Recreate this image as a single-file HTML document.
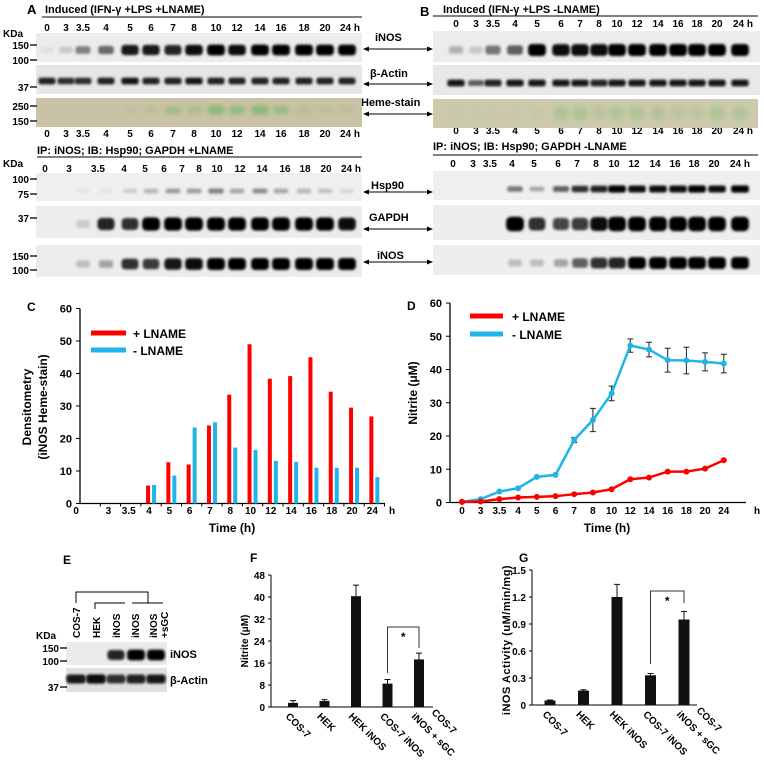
<!DOCTYPE html>
<html><head><meta charset="utf-8"><style>
html,body{margin:0;padding:0;background:#fff;}
svg{display:block;font-family:"Liberation Sans",sans-serif;font-weight:bold;}
</style></head><body>
<svg id="fig" width="764" height="761" viewBox="0 0 764 761" xmlns="http://www.w3.org/2000/svg">
<defs>
<filter id="blur" x="-30%" y="-60%" width="160%" height="220%"><feGaussianBlur stdDeviation="1.3"/></filter>
<filter id="blur2" x="-30%" y="-60%" width="160%" height="220%"><feGaussianBlur stdDeviation="2.2"/></filter>
</defs>
<text x="27" y="14" font-size="13">A</text>
<text x="45" y="13" font-size="11">Induced (IFN-γ +LPS +LNAME)</text>
<line x1="42" y1="17" x2="362" y2="17" stroke="#000"/>
<text x="3" y="37" font-size="10">KDa</text>
<text x="420" y="16" font-size="13">B</text>
<text x="443" y="13" font-size="11">Induced (IFN-γ +LPS -LNAME)</text>
<line x1="433" y1="16" x2="758" y2="16" stroke="#000"/>
<text x="37" y="154" font-size="11">IP: iNOS;  IB: Hsp90; GAPDH    +LNAME</text>
<line x1="37" y1="157" x2="362" y2="157" stroke="#000"/>
<text x="433" y="150" font-size="11">IP: iNOS;  IB: Hsp90; GAPDH       -LNAME</text>
<line x1="433" y1="155" x2="758" y2="155" stroke="#000"/>
<text x="3" y="167" font-size="10">KDa</text>
<text x="375" y="41" font-size="11">iNOS</text>
<text x="370" y="77" font-size="11">β-Actin</text>
<text x="361" y="106" font-size="11">Heme-stain</text>
<text x="371" y="189" font-size="11">Hsp90</text>
<text x="369" y="221" font-size="11">GAPDH</text>
<text x="377" y="259" font-size="11">iNOS</text>
<g id="arrows"></g>
<text x="27" y="311" font-size="12">C</text>
<text transform="translate(31,407) rotate(-90)" text-anchor="middle" font-size="12">Densitometry</text>
<text transform="translate(47,407) rotate(-90)" text-anchor="middle" font-size="12">(iNOS Heme-stain)</text>
<text x="232" y="532" text-anchor="middle" font-size="12">Time (h)</text>
<line x1="91" y1="333" x2="126" y2="333" stroke="#ff0000" stroke-width="5"/>
<text x="133" y="338" font-size="12">+ LNAME</text>
<line x1="91" y1="350" x2="126" y2="350" stroke="#1fb4ea" stroke-width="5"/>
<text x="133" y="355" font-size="12">- LNAME</text>
<text x="407" y="310" font-size="12">D</text>
<text transform="translate(417,393) rotate(-90)" text-anchor="middle" font-size="12">Nitrite (μM)</text>
<text x="607" y="532" text-anchor="middle" font-size="12">Time (h)</text>
<line x1="470" y1="316" x2="503" y2="316" stroke="#ff0000" stroke-width="5"/>
<text x="512" y="321" font-size="12">+ LNAME</text>
<line x1="470" y1="334" x2="503" y2="334" stroke="#1fb4ea" stroke-width="5"/>
<text x="512" y="339" font-size="12">- LNAME</text>
<text x="63" y="564" font-size="12">E</text>
<g fill="none" stroke="#000" stroke-width="1">
<polyline points="76,603 76,592 148,592 148,603"/>
<polyline points="95,609 95,603 125,603"/>
<polyline points="132,603 163,603"/>
</g>
<g font-size="10">
<text transform="translate(80,638) rotate(-90)">COS-7</text>
<text transform="translate(100,638) rotate(-90)">HEK</text>
<text transform="translate(120,638) rotate(-90)">iNOS</text>
<text transform="translate(139,638) rotate(-90)">iNOS</text>
<text transform="translate(157,638) rotate(-90)">iNOS</text>
<text transform="translate(168,638) rotate(-90)">+sGC</text>
</g>
<text x="36" y="639" font-size="10">KDa</text>
<text x="170" y="658" font-size="11">iNOS</text>
<text x="170" y="684" font-size="11">β-Actin</text>
<text x="250" y="562" font-size="12">F</text>
<text transform="translate(248,641) rotate(-90)" text-anchor="middle" font-size="10">Nitrite (μM)</text>
<text x="519" y="562" font-size="12">G</text>
<text transform="translate(510,640) rotate(-90)" text-anchor="middle" font-size="11" letter-spacing="0.5">iNOS Activity (uM/min/mg)</text>
</svg>
<script>
const NS='http://www.w3.org/2000/svg';
const svg=document.getElementById('fig');
function mk(tag,attrs,parent){const e=document.createElementNS(NS,tag);for(const k in attrs)e.setAttribute(k,attrs[k]);(parent||svg).appendChild(e);return e;}

const cCategories=['0','3','3.5','4','5','6','7','8','10','12','14','16','18','20','24'];
const cPlusLname=[0,0,0,5.5,12.7,12,24,33.5,49,38.4,39.2,45,34.4,29.5,26.8];
const cMinusLname=[0,0,0,5.7,8.6,23.4,25,17.2,16.5,13.1,12.8,11,11,11,8.1];
const cTicks=[0,10,20,30,40,50,60];
const dCategories=['0','3','3.5','4','5','6','7','8','10','12','14','16','18','20','24'];
const dPlusLname=[0.2,0.3,1,1.5,1.7,1.9,2.5,3,4,7,7.5,9.3,9.3,10.2,12.7];
const dMinusLname=[0.2,1,3.3,4.3,7.7,8.3,18.8,24.8,32.8,47.2,46,42.8,42.7,42.3,41.8];
const dMinusErr=[0,0,0.5,0.5,0.5,0.5,0.8,3.5,2.2,2,2.2,3.6,4,2.7,2.8];
const dTicks=[0,10,20,30,40,50,60];
const fCategories=['COS-7','HEK','HEK iNOS','COS-7 iNOS','iNOS + sGC|COS-7'];
const fValues=[1.5,2.2,40.3,8.5,17.3];
const fErrors=[0.8,0.5,4,1.5,2.3];
const fTicks=[0,8,16,24,32,40,48];
const gCategories=['COS-7','HEK','HEK iNOS','COS-7 iNOS','iNOS + sGC|COS-7'];
const gValues=[0.05,0.16,1.2,0.33,0.95];
const gErrors=[0.005,0.01,0.14,0.02,0.09];
const gTicks=[0,0.3,0.6,0.9,1.2,1.5];
const aLanes=['0','3','3.5','4','5','6','7','8','10','12','14','16','18','20','24 h'];
const aInos=[0.05,0.15,0.45,0.55,0.9,0.9,0.85,0.95,1,0.95,1,1,1,1,1];
const aActin=[0.85,0.8,0.8,0.85,0.9,0.85,0.85,0.9,0.85,0.85,0.85,0.85,0.85,0.85,0.85];
const aHeme=[0,0,0,0,0.15,0.25,0.5,0.4,0.75,0.6,0.75,0.55,0.3,0.25,0.2];
const aHsp=[0,0,0.05,0.05,0.15,0.25,0.35,0.35,0.45,0.3,0.4,0.3,0.25,0.2,0.1];
const aGapdh=[0,0,0.15,0.85,0.8,1,1,1,1,1,1,1,1,1,0.95];
const aIpInos=[0,0,0.2,0.3,0.8,0.75,0.9,0.95,1,1,1,1,1,1,1];
const bInos=[0.25,0.15,0.5,0.6,1,0.95,0.95,0.95,1,1,1,1,1,1,1];
const bActin=[0.9,0.6,0.85,0.9,0.9,0.9,0.9,0.85,0.9,0.9,0.9,0.9,0.9,0.9,0.9];
const bHeme=[0.05,0.05,0.05,0.05,0.1,0.35,0.35,0.25,0.3,0.35,0.3,0.25,0.2,0.35,0.3];
const bHsp=[0,0,0,0.5,0.3,0.6,0.8,0.85,1,0.95,0.95,0.95,1,0.95,1];
const bGapdh=[0,0,0,1,0.8,0.7,0.75,0.95,1,1,1,1,1,1,1];
const bIpInos=[0,0,0,0.2,0.2,0.3,0.6,0.8,0.85,1,1,1,1,1,1];
const eInos=[0,0,0.85,1,1];
const eActin=[0.9,0.95,0.8,0.85,0.9];

const aX=[47,66,83,106,130,151,173,194,216,237,260,281,304,325,347];
const aXip=[45,69,98,124,145,164,182,199,217,240,262,285,305,326,348];
const bX=[456,476,493,515,537,561,580,599,617,637,658,678,697,717,740];

function lab(x,y,t,size,name){const e=mk('text',{x:x,y:y,'font-size':size||10,'text-anchor':'middle'});e.textContent=t;


return e;}
aLanes.forEach((t,i)=>{lab(aX[i]+(i==14?3:0),31,t,10,'a-lane-label-top');lab(aX[i]+(i==14?3:0),137,t,10,'a-lane-label-bottom');lab(aXip[i]+(i==14?3:0),172,t,10,'a-ip-lane-label');lab(bX[i]+(i==14?3:0),27,t,10,'b-lane-label-top');lab(bX[i]+(i==14?3:0),134,t,10,'b-lane-label-bottom');lab(bX[i]+(i==14?3:0)-3,167,t,10,'b-ip-lane-label');});

function blot(name,x,y,w,h,bg,lanes,vals,opts){
  const g=mk('g',{});
  
  
  mk('rect',{x:x,y:y,width:w,height:h,fill:bg},g);
  vals.forEach((v,i)=>{ if(v<=0) return;
    const bh=(opts.h||8)*(0.6+0.6*v), bw=(opts.w||17)*(0.75+0.3*v);
    const r=mk('rect',{x:lanes[i]-bw/2,y:y+opts.cy-bh/2,width:bw,height:bh,rx:bh/3,fill:opts.color||'#000','fill-opacity':Math.min(1,v*(opts.op||1)),filter:opts.big?'url(#blur2)':'url(#blur)'},g);
    
    
  });
  return g;
}
blot('a-inos-blot',36,33,326,29,'#ececec',aX,aInos,{cy:17,h:9});
blot('a-actin-blot',36,65,326,29,'#e6e6e6',aX,aActin,{cy:16,h:6});
blot('a-heme-blot',36,98,326,29,'#c9c2a6',aX,aHeme,{cy:12,h:9,color:'#3fae3a',big:1,op:0.6});
blot('a-hsp90-blot',36,173,326,28,'#efefef',aX,aHsp,{cy:18,h:6});
blot('a-gapdh-blot',36,206,326,32,'#ececec',aX,aGapdh,{cy:18,h:11});
blot('a-ip-inos-blot',36,245,326,32,'#ececec',aX,aIpInos,{cy:19,h:10});
blot('b-inos-blot',433,31,327,31,'#ececec',bX,bInos,{cy:19,h:10});
blot('b-actin-blot',433,65,327,30,'#e8e8e8',bX,bActin,{cy:18,h:6});
blot('b-heme-blot',433,99,325,29,'#cdc9ad',bX,bHeme,{cy:14,h:18,color:'#3fae3a',big:1,op:0.6});
blot('b-hsp90-blot',433,171,327,29,'#efefef',bX,bHsp,{cy:18,h:6});
blot('b-gapdh-blot',433,205,327,35,'#eeeeee',bX,bGapdh,{cy:19,h:12});
blot('b-ip-inos-blot',433,245,327,30,'#eeeeee',bX,bIpInos,{cy:18,h:10});
blot('e-inos-blot',66,642,101,23,'#ebebeb',[76,96,116,136,156],eInos,{cy:13,h:9});
blot('e-actin-blot',66,668,101,24,'#e0e0e0',[76,96,116,136,156],eActin,{cy:11,h:8,w:19});

function marker(x,y,t,name){const e=mk('text',{x:x-4,y:y+4,'font-size':10,'text-anchor':'end'});e.textContent=t;


mk('line',{x1:x-3,y1:y,x2:x+4,y2:y,stroke:'#000','stroke-width':1.3});}
[[45,'150'],[60,'100'],[87,'37'],[106,'250'],[121,'150'],[179,'100'],[194,'75'],[218,'37'],[256,'150'],[270,'100']].forEach(m=>marker(33,m[0],m[1],'kda-marker'));
[[648,'150'],[661,'100'],[687,'37']].forEach(m=>marker(63,m[0],m[1],'e-kda-marker'));

function arrow(y){const g=document.getElementById('arrows');
mk('line',{x1:366,y1:y,x2:430,y2:y,stroke:'#000','stroke-width':1},g);
mk('path',{d:`M363 ${y} l6 -2.5 v5 z`,fill:'#000'},g);
const h=mk('path',{d:`M433 ${y} l-6 -2.5 v5 z`,fill:'#000'},g);

}
[49,84,114,192,229,262].forEach(arrow);

const xC=i=>80+20.3*(i+0.5), yC=v=>503.5-v*3.25;
mk('line',{x1:80,y1:yC(60),x2:80,y2:yC(0),stroke:'#000','stroke-width':1.3});
mk('line',{x1:80,y1:yC(0),x2:385,y2:yC(0),stroke:'#000','stroke-width':1.3});
cTicks.forEach(t=>{mk('line',{x1:76,y1:yC(t),x2:80,y2:yC(t),stroke:'#000'});const e=lab(72,yC(t)+4,t,11,'c-y-tick');e.setAttribute('text-anchor','end');});
cCategories.forEach((c,i)=>{
  mk('line',{x1:80+20.3*(i+1),y1:yC(0),x2:80+20.3*(i+1),y2:yC(0)+3,stroke:'#000'});
  lab(xC(i)-(i==0?14:2),514,c,10,'c-x-tick');
  if(cPlusLname[i]>0){const r=mk('rect',{x:xC(i)-5,y:yC(cPlusLname[i]),width:4,height:yC(0)-yC(cPlusLname[i]),fill:'#ff0000'});
  
  }
  if(cMinusLname[i]>0){const r=mk('rect',{x:xC(i)+1,y:yC(cMinusLname[i]),width:4,height:yC(0)-yC(cMinusLname[i]),fill:'#1fb4ea'});
  
  }
});
lab(392,514,'h',10,'c-x-unit');

const xD=i=>462+18.7*i, yD=v=>502.5-v*3.325;
mk('line',{x1:450,y1:yD(60),x2:450,y2:yD(0),stroke:'#000','stroke-width':1.3});
mk('line',{x1:450,y1:yD(0),x2:746,y2:yD(0),stroke:'#000','stroke-width':1.3});
dTicks.forEach(t=>{mk('line',{x1:446,y1:yD(t),x2:450,y2:yD(t),stroke:'#000'});const e=lab(442,yD(t)+4,t,11,'d-y-tick');e.setAttribute('text-anchor','end');});
dCategories.forEach((c,i)=>{lab(xD(i),514,c,10,'d-x-tick');});
lab(757,514,'h',10,'d-x-unit');
function series(vals,color,name){
  const pts=vals.map((v,i)=>xD(i)+','+yD(v)).join(' ');
  const pl=mk('polyline',{points:pts,fill:'none',stroke:color,'stroke-width':2.5});
  
  
  vals.forEach((v,i)=>{const c=mk('circle',{cx:xD(i),cy:yD(v),r:3,fill:color});
  
  });
}
dMinusLname.forEach((v,i)=>{const e=dMinusErr[i];if(e<=0.6)return;
  mk('path',{d:`M${xD(i)} ${yD(v-e)} V${yD(v+e)} M${xD(i)-3} ${yD(v-e)} h6 M${xD(i)-3} ${yD(v+e)} h6`,stroke:'#222','stroke-width':1,fill:'none'});});
series(dMinusLname,'#1fb4ea','d-line-minus-lname');
series(dPlusLname,'#ff0000','d-line-plus-lname');

function barChart(prefix,cats,vals,errs,ticks,axX,axEnd,x0,step,y0,scale,bw,dec,bracket){
  const y=v=>y0-v*scale, x=i=>x0+step*i;
  mk('line',{x1:axX,y1:y(ticks[ticks.length-1]),x2:axX,y2:y0,stroke:'#000'});
  mk('line',{x1:axX,y1:y0,x2:axEnd,y2:y0,stroke:'#000'});
  ticks.forEach(t=>{mk('line',{x1:axX-3,y1:y(t),x2:axX,y2:y(t),stroke:'#000'});const e=lab(axX-6,y(t)+4,dec?(t===0?'0':t.toFixed(1)):t,10,prefix+'-y-tick');e.setAttribute('text-anchor','end');});
  cats.forEach((c,i)=>{
    const b=mk('rect',{x:x(i)-bw/2,y:y(vals[i]),width:bw,height:y0-y(vals[i]),fill:'#111'});
    
    
    const e=errs[i];
    mk('path',{d:`M${x(i)} ${y(vals[i])} V${y(vals[i]+e)} M${x(i)-3} ${y(vals[i]+e)} h6`,stroke:'#111',fill:'none'});
    const parts=c.split('|');
    parts.forEach((p,k)=>{const t=mk('text',{transform:`translate(${x(i)-8+k*20},${y0+10-k*4}) rotate(45)`,'font-size':10});t.textContent=p;
    
    });
  });
  const [i1,i2,top,l1,l2]=bracket;
  const br=mk('polyline',{points:`${x(i1)},${l1} ${x(i1)},${top} ${x(i2)},${top} ${x(i2)},${l2}`,fill:'none',stroke:'#333'});
  
  
  lab((x(i1)+x(i2))/2,top+14,'*',12,prefix+'-significance-star');
}
barChart('f',fCategories,fValues,fErrors,fTicks,271,433,293,31.5,707,2.75,10,false,[3,4,627,673,648]);
barChart('g',gCategories,gValues,gErrors,gTicks,532,697,550,33.5,705,90,11,true,[3,4,591,664,603]);
</script>
</body></html>
